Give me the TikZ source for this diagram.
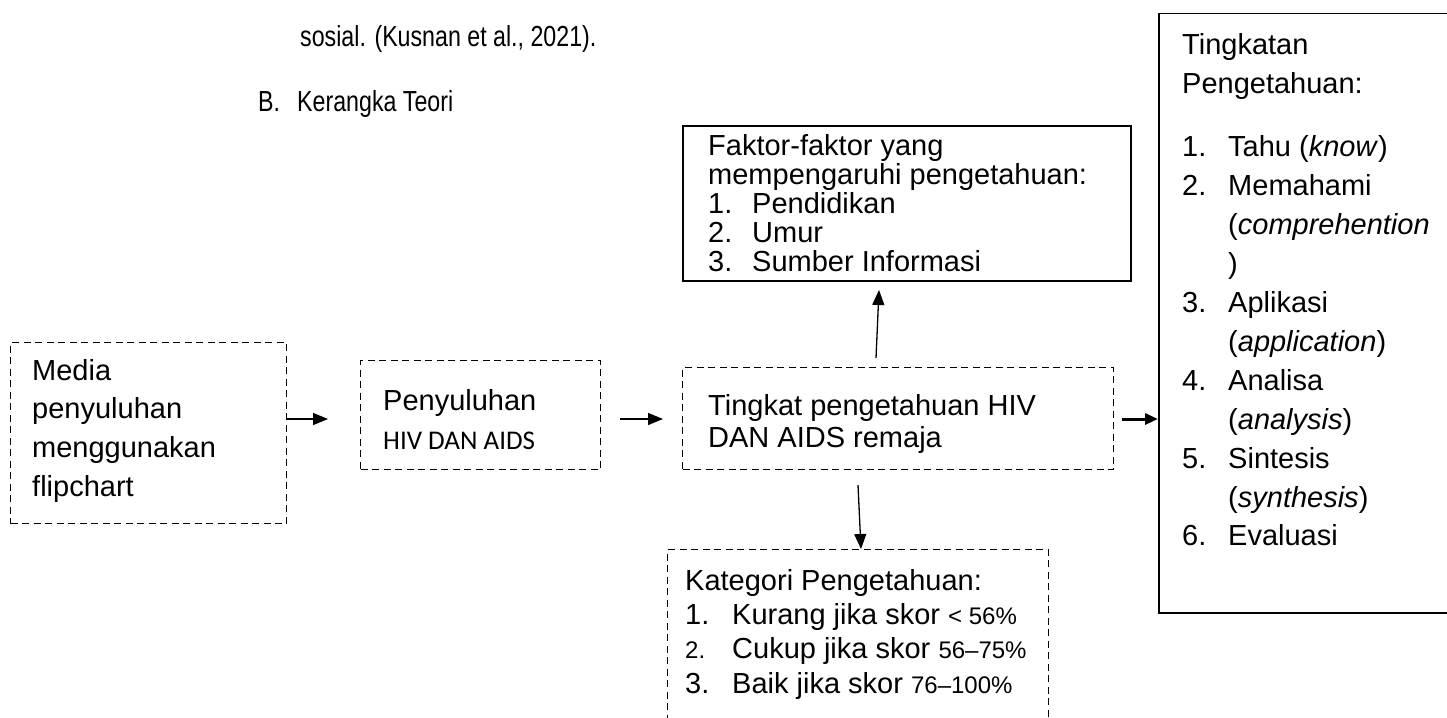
\documentclass[tikz,border=0pt]{standalone}
\usepackage{fontspec}
\setmainfont{Liberation Sans}
\newfontfamily\calfont{Carlito}
\newfontfamily\narrowfont[FakeStretch=0.8]{Liberation Sans}
\usetikzlibrary{arrows.meta}
\begin{document}
\begin{tikzpicture}[x=1pt,y=-1pt,
  txt/.style={anchor=base west,inner sep=0pt,font=\fontsize{29}{33}\selectfont},
  ntxt/.style={anchor=base west,inner sep=0pt,font=\narrowfont\fontsize{29}{33}\selectfont},
  dbox/.style={draw,line width=1.4pt,dash pattern=on 7pt off 4.5pt,anchor=north west,inner sep=0pt},
  sbox/.style={draw,line width=1.5pt,anchor=north west,inner sep=0pt},
  arr/.style={line width=1.3pt,-{Triangle[length=15pt,width=12pt]}},
  tarr/.style={line width=3pt,-{Triangle[length=13pt,width=11pt]}}]
\useasboundingbox (0,0) rectangle (1447,717);
\clip (0,0) rectangle (1447,717);
% heading texts
\node[ntxt] (sos) at (300,47) {sosial. (Kusnan et al., 2021).};
\node[ntxt] (bb) at (258,111) {B.};
\node[ntxt] (kt) at (297,111) {Kerangka Teori};
% Media box
\node[dbox,minimum width=276pt,minimum height=181pt] (media) at (10,342) {};
\node[txt] (m1) at (32,380) {Media};
\node[txt] (m2) at (32,418) {penyuluhan};
\node[txt] (m3) at (32,457) {menggunakan};
\node[txt] (m4) at (32,496) {flipchart};
% Penyuluhan box
\node[dbox,minimum width=240pt,minimum height=109pt] (pen) at (360,360) {};
\node[txt] (p1) at (383,410) {Penyuluhan};
\node[txt,font=\calfont\fontsize{27}{31}\selectfont] (p2) at (383,449) {HIV DAN AIDS};
% Tingkat box
\node[dbox,minimum width=431pt,minimum height=102pt] (ting) at (682,367) {};
\node[txt] (t1) at (708,415) {Tingkat pengetahuan HIV};
\node[txt] (t2) at (708,447) {DAN AIDS remaja};
% Faktor box
\node[sbox,minimum width=448pt,minimum height=155pt] (fak) at (682,125) {};
\node[txt] (f1) at (708,155) {Faktor-faktor yang};
\node[txt] (f2) at (708,184) {mempengaruhi pengetahuan:};
\foreach \n/\t [count=\i] in {1./Pendidikan,2./Umur,3./Sumber Informasi}{
  \node[txt] (fn\i) at (708,184+\i*29) {\n};
  \node[txt] (ft\i) at (752,184+\i*29) {\t};
}
% Kategori box
\node[dbox,minimum width=381pt,minimum height=200pt] (kat) at (667,549) {};
\node[txt] (k0) at (685,590) {Kategori Pengetahuan:};
\node[txt] (kn1) at (685,624) {1.};
\node[txt] (kt1) at (732,624) {Kurang jika skor {\fontsize{24}{28}\selectfont < 56\%}};
\node[txt,font=\fontsize{24}{28}\selectfont] (kn2) at (685,658) {2.};
\node[txt] (kt2) at (732,658) {Cukup jika skor {\fontsize{24}{28}\selectfont 56--75\%}};
\node[txt] (kn3) at (685,693) {3.};
\node[txt] (kt3) at (732,693) {Baik jika skor {\fontsize{24}{28}\selectfont 76--100\%}};
% Tingkatan box
\node[sbox,minimum width=300pt,minimum height=599pt] (tk) at (1158,13) {};
\node[txt] (h1) at (1182,55) {Tingkatan};
\node[txt] (h2) at (1182,93) {Pengetahuan:};
\foreach \n/\t [count=\i] in {1./{Tahu (\textit{know})},2./Memahami,/(\textit{comprehention},/),3./Aplikasi,/(\textit{application}),4./Analisa,/(\textit{analysis}),5./Sintesis,/(\textit{synthesis}),6./Evaluasi}{
  \node[txt] (hn\i) at (1182,118+\i*38.9) {\n};
  \node[txt] (ht\i) at (1228,118+\i*38.9) {\t};
}
% connectors
\coordinate (a1) at (328,419);
\draw[arr] (media.east |- a1) -- (a1);
\coordinate (a2s) at (620,419);
\coordinate (a2e) at (663,419);
\draw[arr] (a2s) -- (a2e);
\coordinate (upS) at (876,358);
\coordinate (upE) at (879,290);
\draw[arr] (upS) -- (upE);
\coordinate (dnS) at (858,485);
\draw[arr] (dnS) -- (kat.north -| 861,0);
\coordinate (thS) at (1122,419);
\draw[tarr] (thS) -- (tk.west |- thS);
\end{tikzpicture}
\end{document}
